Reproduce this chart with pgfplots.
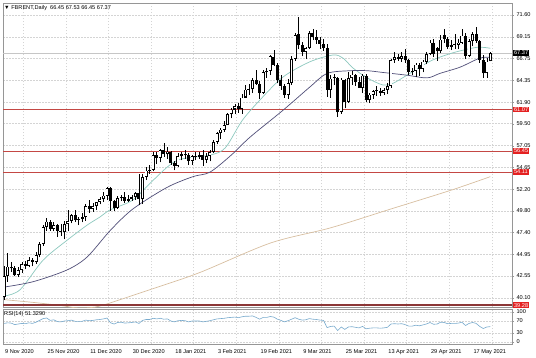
\documentclass[border=0pt]{standalone}
\usepackage{pgfplots}
\pgfplotsset{compat=1.18}
\usepackage{pgfplotstable}
\usepackage{fontspec}
\setmainfont{Liberation Sans}
\definecolor{lvlred}{RGB}{196,72,68}
\definecolor{boxred}{RGB}{228,32,32}
\definecolor{darkred}{RGB}{140,55,55}
\definecolor{mafast}{RGB}{140,200,190}
\definecolor{maslow}{RGB}{80,78,120}
\definecolor{malong}{RGB}{215,190,160}
\definecolor{rsiblue}{RGB}{120,170,205}
\definecolor{gridc}{RGB}{212,212,212}
\definecolor{framec}{RGB}{150,150,150}

\pgfplotstableread{
i O H L C
0 40.20 43.60 39.90 42.50
1 42.50 45.10 41.90 43.60
2 43.60 44.10 43.00 43.40
3 43.40 43.70 42.50 42.70
4 42.70 43.50 42.40 43.20
5 43.20 44.10 42.90 43.90
6 43.90 44.20 43.30 43.70
7 43.70 44.60 43.50 44.30
8 44.30 44.50 43.60 44.10
9 44.10 45.20 43.90 44.90
10 44.90 46.30 44.60 46.10
11 46.10 48.20 45.90 48.00
12 48.00 49.00 47.60 48.60
13 48.60 48.80 47.60 47.80
14 47.80 48.50 47.50 48.20
15 48.20 48.30 46.90 47.60
16 47.60 48.30 47.00 47.40
17 47.40 48.70 46.60 48.30
18 48.30 49.90 47.50 48.70
19 48.70 49.40 48.40 49.30
20 49.30 49.90 48.60 48.80
21 48.80 49.10 48.20 48.90
22 48.90 49.60 48.50 49.10
23 49.10 50.60 48.70 50.30
24 50.30 51.00 49.60 50.00
25 50.00 50.70 49.70 50.30
26 50.30 50.80 49.90 50.80
27 50.80 51.30 50.50 51.10
28 51.10 51.90 50.80 51.50
29 51.50 52.50 51.00 52.30
30 52.30 52.40 49.80 50.90
31 50.90 51.00 49.80 50.10
32 50.10 51.40 50.00 51.20
33 51.20 51.50 50.90 51.30
34 51.30 51.90 50.70 50.90
35 50.90 51.50 50.80 51.10
36 51.10 51.60 50.90 51.30
37 51.30 51.90 51.00 51.80
38 51.80 53.90 50.40 51.10
39 51.10 53.90 50.60 53.60
40 53.60 54.70 53.20 54.30
41 54.30 54.90 53.90 54.40
42 54.40 56.30 54.20 56.00
43 56.00 56.30 55.00 55.70
44 55.70 56.70 55.20 56.60
45 56.60 57.40 55.80 56.10
46 56.10 56.90 55.60 56.40
47 56.40 56.50 54.90 55.10
48 55.10 55.30 54.30 54.80
49 54.80 56.20 54.70 55.90
50 55.90 56.40 55.40 56.10
51 56.10 56.60 55.60 56.00
52 56.00 56.20 54.90 55.40
53 55.40 56.00 54.90 55.90
54 55.90 56.30 55.40 55.80
55 55.80 56.40 55.60 56.00
56 56.00 56.60 54.80 55.50
57 55.50 56.20 55.10 55.90
58 55.90 56.60 55.30 56.35
59 56.35 57.70 56.20 57.46
60 57.46 58.60 57.20 58.46
61 58.46 59.00 57.80 58.84
62 58.84 59.80 58.60 59.34
63 59.34 60.70 59.30 60.56
64 60.56 61.30 60.10 61.09
65 61.09 61.70 60.60 61.47
66 61.47 61.80 60.70 61.14
67 61.14 62.80 60.60 62.43
68 62.43 63.80 62.40 63.30
69 63.30 63.90 62.70 63.35
70 63.35 64.60 62.90 64.34
71 64.34 65.50 63.80 63.93
72 63.93 64.20 62.30 62.91
73 62.91 65.50 62.80 65.24
74 65.24 65.70 64.60 65.37
75 65.37 67.20 64.90 67.04
76 67.00 67.70 65.90 66.10
77 66.10 66.30 64.00 64.42
78 64.42 64.90 63.30 63.69
79 63.69 63.90 62.40 62.70
80 62.70 64.50 62.30 64.07
81 64.07 67.00 63.80 66.74
82 66.74 69.60 66.50 69.36
83 69.50 71.38 67.80 68.24
84 68.24 68.60 67.00 67.52
85 67.52 68.00 66.70 67.90
86 67.90 69.80 67.80 69.63
87 69.63 70.00 68.80 69.22
88 69.22 69.90 68.40 68.88
89 68.88 69.20 67.80 68.39
90 68.39 68.90 67.60 68.00
91 68.00 68.40 62.50 63.28
92 63.28 64.90 62.40 64.53
93 64.70 65.00 63.80 64.62
94 64.62 64.70 60.27 60.79
95 60.79 64.60 60.60 64.41
96 64.41 64.50 61.20 61.95
97 61.95 65.30 61.80 64.57
98 64.57 65.40 63.80 64.98
99 64.98 65.00 63.70 64.14
100 64.14 64.70 63.50 63.54
101 63.54 65.00 62.90 64.86
102 64.86 65.00 61.90 62.15
103 62.15 62.90 61.80 62.74
104 62.74 63.30 62.30 63.16
105 63.16 63.70 62.60 63.20
106 63.20 63.50 62.60 62.95
107 62.95 63.50 62.70 63.28
108 63.28 64.00 62.80 63.67
109 63.67 66.70 63.50 66.58
110 66.58 67.50 66.30 66.94
111 66.94 67.30 66.50 66.77
112 66.77 67.50 66.40 67.05
113 67.05 67.80 66.30 66.57
114 66.57 66.70 64.90 65.32
115 65.32 65.70 64.90 65.40
116 65.40 66.30 64.70 66.11
117 66.11 66.30 64.80 65.65
118 65.65 66.60 65.20 66.42
119 66.42 67.50 66.10 67.27
120 67.27 68.80 67.10 68.56
121 68.56 68.90 66.90 67.25
122 67.90 68.00 66.50 67.56
123 67.56 69.40 67.40 68.88
124 69.40 70.00 68.50 68.96
125 68.96 69.20 67.80 68.09
126 68.09 68.80 67.70 68.28
127 68.28 69.50 67.80 68.32
128 68.32 68.90 67.80 68.55
129 68.55 70.00 68.40 69.32
130 69.32 69.60 66.70 67.05
131 67.05 68.90 66.90 68.71
132 68.71 69.70 68.10 69.46
133 69.46 70.30 68.50 68.71
134 68.71 68.80 66.30 66.66
135 66.66 67.10 64.60 65.11
136 65.11 66.80 64.60 66.44
137 66.45 67.53 66.45 67.37
}\candles

\pgfplotstableread{
i v
0 40.3
4.5 41.0
11 44.3
17.7 46.5
23.4 48.2
27 49.1
29.9 49.9
36.3 51.0
42 53.2
48.7 55.4
58 56.0
62.3 56.8
67 59.8
72 62.1
78.6 64.7
86.2 66.4
92.7 67.15
95.5 66.8
98.3 65.7
102.3 64.6
106.8 63.8
109.6 64.0
113.5 64.9
117.2 65.8
120.8 66.6
126.5 67.4
133.2 68.0
137 67.9
}\mafastT

\pgfplotstableread{
i v
0 41.3
8.2 41.9
17.7 43.2
23.4 44.65
29.9 47.6
36.3 50.0
45.9 52.4
53.2 53.6
58 54.1
64 56.0
69.3 58.0
78.6 61.0
86.2 63.6
91 65.1
97.5 65.4
102.3 65.4
106.8 65.2
113.5 64.9
119.2 64.6
122.8 65.1
128.5 65.8
134 66.8
137 66.9
}\maslowT

\pgfplotstableread{
i v
0 39.9
8 39.6
16 39.25
20 39.0
24 39.0
28 39.3
41 41.0
55 42.9
75 46.2
92 47.9
109 50.0
126 52.1
137 53.6
}\malongT

\pgfplotstableread{
i r
0 62
1 64
2 63
3 58
4 60
5 62
6 61
7 64
8 62
9 66
10 72
11 78
12 80
13 72
14 74
15 68
16 67
17 70
18 71
19 73
20 69
21 69
22 69
23 73
24 71
25 72
26 74
27 75
28 77
29 80
30 64
31 60
32 65
33 66
34 63
35 64
36 65
37 67
38 62
39 72
40 75
41 75
42 79
43 77
44 79
45 76
46 77
47 70
48 67
49 71
50 72
51 71
52 67
53 70
54 70
55 70
56 67
57 69
58 71
59 74
60 77
61 78
62 79
63 81
64 82
65 83
66 81
67 84
68 86
69 86
70 87
71 82
72 76
73 82
74 82
75 85
76 83
77 76
78 72
79 67
80 71
81 76
82 81
83 76
84 73
85 74
86 78
87 76
88 75
89 73
90 72
91 48
92 52
93 53
94 38
95 50
96 42
97 50
98 51
99 49
100 47
101 52
102 44
103 46
104 47
105 47
106 46
107 47
108 49
109 60
110 61
111 60
112 61
113 58
114 53
115 53
116 56
117 54
118 57
119 60
120 65
121 59
122 60
123 66
124 65
125 61
126 62
127 62
128 63
129 66
130 55
131 62
132 65
133 62
134 52
135 45
136 50
137 51.33
}\rsiT

\newcommand{\lblfont}{\fontsize{5.6pt}{6.5pt}\selectfont}

\begin{document}
\begin{tikzpicture}[font=\lblfont]
\path[use as bounding box] (0,0) rectangle (536pt,-357pt);
\begin{axis}[
  at={(3pt,-3pt)}, anchor=north west,
  scale only axis, width=509pt, height=304pt,
  xmin=-0.3, xmax=143.1, ymin=39.08, ymax=72.94,
  axis line style={framec, line width=0.6pt},
  xtick={5.4,17.4,...,137.4}, xticklabels={}, xmajorgrids,
  ytick={40.10,42.55,44.95,47.40,49.80,52.20,54.65,57.05,59.50,61.90,64.35,66.75,69.15,71.60},
  ymajorgrids,
  grid style={gridc, dash pattern=on 1.5pt off 1.5pt, line width=0.4pt},
  ytick pos=right, yticklabel pos=right,
  tick align=outside, major tick length=2pt,
  x tick style={draw=none}, y tick style={framec},
  yticklabel style={font=\lblfont, xshift=-1pt,
    /pgf/number format/fixed, /pgf/number format/fixed zerofill,
    /pgf/number format/precision=2, /pgf/number format/assume math mode=true},
  clip mode=individual,
]
% long MA
\addplot[malong, line width=0.7pt, smooth] table[x=i,y=v] {\malongT};
% level lines
\addplot[lvlred, line width=1pt] coordinates {(-1,61.07) (150,61.07)};
\addplot[lvlred, line width=1pt] coordinates {(-1,56.45) (150,56.45)};
\addplot[lvlred, line width=1pt] coordinates {(-1,54.11) (150,54.11)};
\addplot[darkred, line width=1.6pt] coordinates {(-1,39.28) (150,39.28)};
\addplot[gray!45, line width=0.5pt] coordinates {(-1,67.37) (150,67.37)};
% moving averages
\addplot[mafast, line width=0.7pt, smooth] table[x=i,y=v] {\mafastT};
\addplot[maslow, line width=0.7pt, smooth] table[x=i,y=v] {\maslowT};
% wicks: segment from low to high
\addplot[black, line width=0.55pt, -, quiver={u=0, v={\thisrow{H}-\thisrow{L}}}]
  table[x=i, y=L] {\candles};
% bodies: segment from min(O,C) to max(O,C)
\addplot[black, line width=3.0pt, -, line cap=butt,
  quiver={u=0, v={max(abs(\thisrow{C}-\thisrow{O}),0.1)}}]
  table[x=i, y expr={min(\thisrow{O},\thisrow{C})-0.02}] {\candles};
% hollow interior of rising candles
\addplot[white, line width=1.6pt, -, line cap=butt,
  restrict expr to domain={\thisrow{C}-\thisrow{O}}{0.22:100},
  quiver={u=0, v={\thisrow{C}-\thisrow{O}-0.2}}]
  table[x=i, y expr={\thisrow{O}+0.1}] {\candles};
% labels
\node[anchor=west, inner sep=0pt] at (axis description cs:0.002,0.984) {▼ FBRENT,Daily\ \ 66.45 67.53 66.45 67.37};
\node[anchor=west, fill=black, text=white, inner xsep=1.2pt, inner ysep=0.9pt] at (axis cs:143.3,67.37) {67.37};
\node[anchor=west, fill=boxred, text=white, inner xsep=1.2pt, inner ysep=0.9pt] at (axis cs:143.3,61.07) {61.07};
\node[anchor=west, fill=boxred, text=white, inner xsep=1.2pt, inner ysep=0.9pt] at (axis cs:143.3,56.45) {56.45};
\node[anchor=west, fill=boxred, text=white, inner xsep=1.2pt, inner ysep=0.9pt] at (axis cs:143.3,54.11) {54.11};
\node[anchor=west, fill=boxred, text=white, inner xsep=1.2pt, inner ysep=0.9pt] at (axis cs:143.3,39.28) {39.28};
\end{axis}

\begin{axis}[
  at={(3pt,-309pt)}, anchor=north west,
  scale only axis, width=509pt, height=35pt,
  xmin=-0.3, xmax=143.1, ymin=-6.7, ymax=110,
  axis line style={framec, line width=0.6pt},
  xtick={5.4,17.4,...,137.4}, xticklabels={}, xmajorgrids,
  ytick={0,30,70,100}, ymajorgrids,
  grid style={gridc, dash pattern=on 1.5pt off 1.5pt, line width=0.4pt},
  ytick pos=right, yticklabel pos=right,
  tick align=outside, major tick length=2pt,
  x tick style={draw=none}, y tick style={framec},
  yticklabel style={font=\lblfont, xshift=-1pt, /pgf/number format/assume math mode=true},
  extra x ticks={0,12,24,36,48,60,72,84,96,108,120,132},
  extra x tick labels={9 Nov 2020,25 Nov 2020,11 Dec 2020,30 Dec 2020,18 Jan 2021,3 Feb 2021,19 Feb 2021,9 Mar 2021,25 Mar 2021,13 Apr 2021,29 Apr 2021,17 May 2021},
  extra x tick style={grid=none, xticklabel style={anchor=north west, xshift=-2.5pt, yshift=0pt, font=\lblfont}},
  clip mode=individual,
]
\addplot[rsiblue, line width=0.6pt] table[x=i,y=r] {\rsiT};
\node[anchor=west, inner sep=0pt] at (axis description cs:0.002,0.86) {RSI(14) 51.3290};
\end{axis}
\end{tikzpicture}
\end{document}
